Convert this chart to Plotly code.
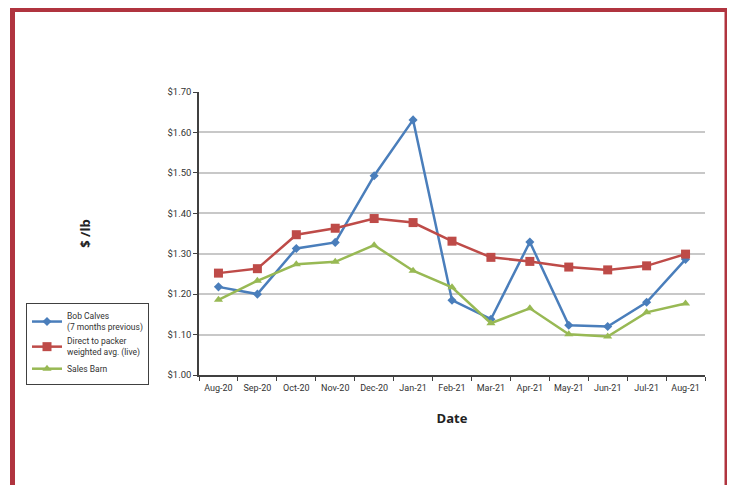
import plotly.graph_objects as go

dates = ["Aug-20", "Sep-20", "Oct-20", "Nov-20", "Dec-20", "Jan-21", "Feb-21",
         "Mar-21", "Apr-21", "May-21", "Jun-21", "Jul-21", "Aug-21"]
bob_calves = [1.218, 1.200, 1.313, 1.328, 1.493, 1.631, 1.185, 1.138, 1.329, 1.123, 1.120, 1.180, 1.286]
direct_packer = [1.252, 1.263, 1.347, 1.363, 1.387, 1.377, 1.331, 1.291, 1.281, 1.267, 1.260, 1.270, 1.299]
sales_barn = [1.186, 1.233, 1.274, 1.280, 1.321, 1.258, 1.217, 1.128, 1.165, 1.101, 1.095, 1.155, 1.177]
y_ticks = [1.0, 1.1, 1.2, 1.3, 1.4, 1.5, 1.6, 1.7]
y_tick_labels = ["$1.00", "$1.10", "$1.20", "$1.30", "$1.40", "$1.50", "$1.60", "$1.70"]

FONT = "Liberation Sans Narrow, Arial Narrow, Roboto, Arial, sans-serif"

W, H = 727, 477
L, T, R, B = 191, 84, 30, 110
PW, PH = W - L - R, H - T - B

fig = go.Figure()
fig.add_trace(go.Scatter(
    x=dates, y=bob_calves, mode="lines+markers",
    name="Bob Calves<br>(7 months previous)",
    line=dict(color="#4A7EBB", width=2.5),
    marker=dict(symbol="diamond", size=7, color="#4A7EBB")))
fig.add_trace(go.Scatter(
    x=dates, y=direct_packer, mode="lines+markers",
    name="Direct to packer<br>weighted avg. (live)",
    line=dict(color="#BE4B48", width=2.5),
    marker=dict(symbol="square", size=9, color="#BE4B48")))
fig.add_trace(go.Scatter(
    x=dates, y=sales_barn, mode="lines+markers",
    name="Sales Barn",
    line=dict(color="#98B954", width=2.5),
    marker=dict(symbol="triangle-up", size=8, color="#98B954")))

fig.update_layout(
    width=W, height=H,
    margin=dict(l=L, r=R, t=T, b=B),
    paper_bgcolor="white", plot_bgcolor="white",
    font=dict(family=FONT, size=9, color="#333333"),
    legend=dict(
        x=(18 - L) / PW, y=(367 - 295) / PH, xanchor="left", yanchor="top",
        bordercolor="#404040", borderwidth=1, bgcolor="white",
        font=dict(family=FONT, size=8.5, color="#333333"),
        tracegroupgap=0, itemwidth=30,
    ),
    xaxis=dict(
        type="category", categoryorder="array", categoryarray=dates,
        range=[-0.5, 12.5], tickson="boundaries", ticks="outside", ticklen=4,
        tickcolor="#404040", showline=True, linecolor="#404040", linewidth=1.5,
        showgrid=False, tickangle=0, ticklabelstandoff=3,
        tickfont=dict(family=FONT, size=9, color="#333333"),
        title=dict(text="<b>Date</b>", font=dict(family="Open Sans, Arial, sans-serif", size=13, color="#222"), standoff=22),
    ),
    yaxis=dict(
        range=[1.0, 1.7], tickvals=y_ticks, ticktext=y_tick_labels,
        ticks="outside", ticklen=4, tickcolor="#404040",
        showline=True, linecolor="#404040", linewidth=1.5,
        showgrid=True, gridcolor="#C8C8C8", gridwidth=1.5, zeroline=False,
        tickfont=dict(family=FONT, size=9.5, color="#333333"),
        title=dict(text="<b>$ /lb</b>", font=dict(family="Open Sans, Arial, sans-serif", size=13, color="#222"), standoff=74),
    ),
    showlegend=True,
)

# red frame around the figure (bottom edge runs off the page)
fig.add_shape(type="rect", xref="paper", yref="paper",
              x0=-(L - 4.5) / PW, x1=1 + (719 - (W - R)) / PW,
              y0=-(520 - (H - B)) / PH, y1=1 + (T - 1.5) / PH,
              line=dict(color="#B0343F", width=5), fillcolor="rgba(0,0,0,0)", layer="above")

fig.write_html("out.html")
